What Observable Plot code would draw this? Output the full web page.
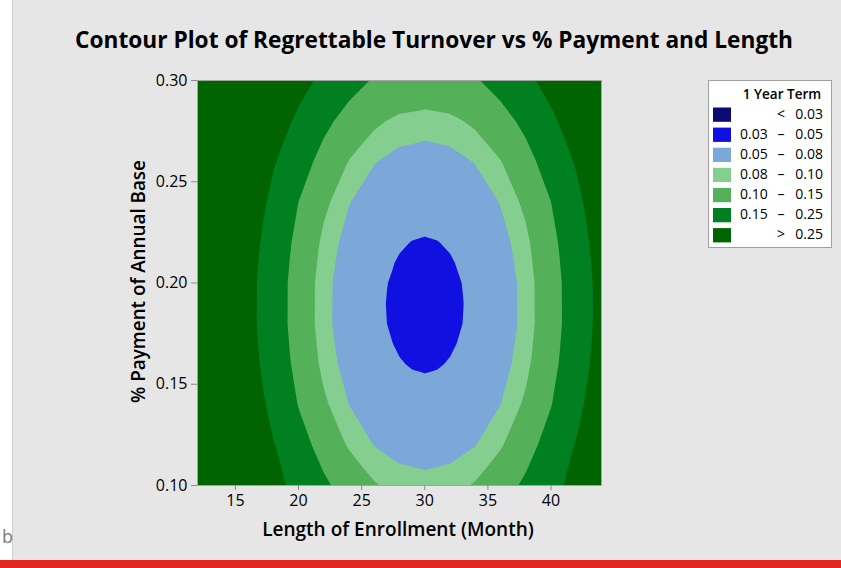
<!DOCTYPE html>
<html>
<head>
<meta charset="utf-8">
<script src="https://cdn.jsdelivr.net/npm/d3@7"></script>
<script src="https://cdn.jsdelivr.net/npm/@observablehq/plot@0.6"></script>
<style>
  html, body { margin: 0; padding: 0; }
  body { width: 841px; height: 568px; overflow: hidden; background: #ffffff; position: relative; font-family: "Open Sans", sans-serif; }
  #panel { position: absolute; left: 12px; top: 0; width: 828px; height: 560px; background: #e6e6e6; border-left: 1px solid #cfcfcf; }
  #redbar { position: absolute; left: 0; top: 560px; width: 841px; height: 8px; background: #e3241f; }
  #side { position: absolute; left: 2px; top: 524px; font-size: 18px; color: #7a7a7a; font-family: "Open Sans", sans-serif; }
  #chart { position: absolute; left: 0; top: 0; }
  #chart svg { background: transparent !important; }
</style>
</head>
<body>
<div id="panel"></div>
<div id="redbar"></div>
<div id="side">b</div>
<div id="chart"></div>
<script>
// ---- data ----
const titleText = "Contour Plot of Regrettable Turnover vs % Payment and Length";
const xLabel = "Length of Enrollment (Month)";
const yLabel = "% Payment of Annual Base";
const legendTitle = "1 Year Term";

// coarse grid of the fitted surface (columns = months, rows = payments, top row = 0.30)
const months = [12, 14, 16, 18, 20, 22, 24, 26, 28, 30, 32, 34, 36, 38, 40, 42, 44];
const payments = [0.30, 0.28, 0.26, 0.24, 0.22, 0.20, 0.18, 0.16, 0.14, 0.12, 0.10];
const turnover = [
  [0.8246,0.6929,0.5412,0.4022,0.2950,0.2209,0.1733,0.1445,0.1292,0.1244,0.1292,0.1445,0.1733,0.2209,0.2950,0.4022,0.5412],
  [0.7664,0.6115,0.4516,0.3196,0.2260,0.1652,0.1276,0.1054,0.0938,0.0902,0.0938,0.1054,0.1276,0.1652,0.2260,0.3196,0.4516],
  [0.7109,0.5412,0.3816,0.2603,0.1795,0.1292,0.0988,0.0812,0.0720,0.0692,0.0720,0.0812,0.0988,0.1292,0.1795,0.2603,0.3816],
  [0.6643,0.4871,0.3319,0.2208,0.1498,0.1067,0.0811,0.0664,0.0588,0.0564,0.0588,0.0664,0.0811,0.1067,0.1498,0.2208,0.3319],
  [0.6310,0.4507,0.3003,0.1967,0.1321,0.0935,0.0709,0.0579,0.0512,0.0491,0.0512,0.0579,0.0709,0.0935,0.1321,0.1967,0.3003],
  [0.6135,0.4323,0.2849,0.1851,0.1238,0.0874,0.0661,0.0539,0.0477,0.0458,0.0477,0.0539,0.0661,0.0874,0.1238,0.1851,0.2849],
  [0.6126,0.4314,0.2841,0.1846,0.1234,0.0871,0.0659,0.0538,0.0475,0.0456,0.0475,0.0538,0.0659,0.0871,0.1234,0.1846,0.2841],
  [0.6285,0.4481,0.2981,0.1950,0.1309,0.0926,0.0702,0.0573,0.0507,0.0487,0.0507,0.0573,0.0702,0.0926,0.1309,0.1950,0.2981],
  [0.6604,0.4826,0.3279,0.2177,0.1475,0.1050,0.0798,0.0653,0.0578,0.0555,0.0578,0.0653,0.0798,0.1050,0.1475,0.2177,0.3279],
  [0.7058,0.5351,0.3758,0.2556,0.1759,0.1264,0.0966,0.0793,0.0704,0.0676,0.0704,0.0793,0.0966,0.1264,0.1759,0.2556,0.3758],
  [0.7606,0.6039,0.4437,0.2800,0.2204,0.1609,0.1241,0.1025,0.0911,0.0876,0.0911,0.1025,0.1241,0.1609,0.2204,0.2800,0.4437]
];

// finer grid around the minimum (top row = 0.24)
const fineMonths = [26, 27, 28, 29, 30, 31, 32, 33, 34];
const finePayments = [0.24, 0.23, 0.22, 0.21, 0.20, 0.19, 0.18, 0.17, 0.16, 0.15, 0.14];
const fineTurnover = [
  [0.0664,0.0618,0.0588,0.0570,0.0564,0.0570,0.0588,0.0618,0.0664],
  [0.0615,0.0573,0.0544,0.0528,0.0522,0.0528,0.0544,0.0573,0.0615],
  [0.0579,0.0539,0.0512,0.0497,0.0491,0.0497,0.0512,0.0539,0.0579],
  [0.0554,0.0516,0.0490,0.0475,0.0470,0.0475,0.0490,0.0516,0.0554],
  [0.0539,0.0502,0.0477,0.0462,0.0458,0.0462,0.0477,0.0502,0.0539],
  [0.0534,0.0497,0.0472,0.0458,0.0453,0.0458,0.0472,0.0497,0.0534],
  [0.0538,0.0500,0.0475,0.0461,0.0456,0.0461,0.0475,0.0500,0.0538],
  [0.0550,0.0512,0.0487,0.0472,0.0467,0.0472,0.0487,0.0512,0.0550],
  [0.0573,0.0534,0.0507,0.0492,0.0487,0.0492,0.0507,0.0534,0.0573],
  [0.0607,0.0565,0.0537,0.0521,0.0515,0.0521,0.0537,0.0565,0.0607],
  [0.0653,0.0608,0.0578,0.0561,0.0555,0.0561,0.0578,0.0608,0.0653]
];

const levels = [0.03, 0.05, 0.08, 0.10, 0.15, 0.25];
const levelColors = ["#0b0b72", "#1010e0", "#7ba7d9", "#84cf90", "#55b05a", "#008021", "#006400"];
const legendRows = [["<", "", "0.03"], ["0.03", "–", "0.05"], ["0.05", "–", "0.08"], ["0.08", "–", "0.10"], ["0.10", "–", "0.15"], ["0.15", "–", "0.25"], [">", "", "0.25"]];
const xTicks = [15, 20, 25, 30, 35, 40];
const yTicks = [0.10, 0.15, 0.20, 0.25, 0.30];
const xDomain = [12, 44];
const yDomain = [0.10, 0.30];

// ---- build sample points ----
const samples = new Map();
function addGrid(xs, ys, vals) {
  ys.forEach((y, r) => xs.forEach((x, c) => {
    samples.set(x + "|" + y.toFixed(2), { x, y, v: vals[r][c] });
  }));
}
addGrid(months, payments, turnover);
addGrid(fineMonths, finePayments, fineTurnover);
const points = Array.from(samples.values());

const W = 841, H = 568;
const chart = Plot.plot({
  width: W,
  height: H,
  marginLeft: 197,
  marginRight: 240,
  marginTop: 80,
  marginBottom: 83,
  style: { background: "transparent", fontFamily: "'Open Sans', sans-serif", fontSize: "16px", color: "#000" },
  x: { domain: xDomain },
  y: { domain: yDomain },
  color: { type: "threshold", domain: levels, range: levelColors },
  marks: [
    Plot.contour(points, {
      x: "x", y: "y", fill: "v",
      interpolate: "barycentric",
      pixelSize: 1,
      thresholds: levels,
      stroke: "none",
      clip: true
    }),
    Plot.frame({ stroke: "#a3a3a3", strokeWidth: 1 }),
    Plot.axisX({ ticks: xTicks, tickSize: 5, tickPadding: 4, stroke: "#8c8c8c", fill: "#000", label: null }),
    Plot.axisY({ ticks: yTicks, tickSize: 6, tickPadding: 4, tickFormat: d3.format(".2f"), stroke: "#8c8c8c", fill: "#000", label: null })
  ]
});
document.getElementById("chart").appendChild(chart);

const svg = d3.select(chart);
// tick labels: enforce size and face
svg.selectAll("text")
  .attr("font-size", 16)
  .style("font-size", "16px")
  .style("font-family", "'Open Sans', sans-serif");

const g = svg.append("g").attr("font-family", "'Open Sans', sans-serif").attr("fill", "#000");

function fitText(sel, target) {
  const len = sel.node().getComputedTextLength();
  const fs = parseFloat(sel.attr("font-size"));
  if (len > 0) sel.attr("font-size", (fs * target / len).toFixed(2));
}

const t = g.append("text").attr("x", 434).attr("y", 48).attr("text-anchor", "middle")
  .attr("font-size", 24).attr("font-weight", 700).text(titleText);
fitText(t, 718);

const xl = g.append("text").attr("x", 398).attr("y", 536).attr("text-anchor", "middle")
  .attr("font-size", 19).attr("font-weight", 600).text(xLabel);
fitText(xl, 272);

const yl = g.append("text").attr("transform", "translate(144.5,281.5) rotate(-90)").attr("text-anchor", "middle")
  .attr("font-size", 19).attr("font-weight", 600).text(yLabel);
fitText(yl, 243);

// legend
const lg = g.append("g");
lg.append("rect").attr("x", 708.5).attr("y", 80.5).attr("width", 123).attr("height", 167)
  .attr("fill", "#fff").attr("stroke", "#a0a0a0");
lg.append("text").attr("x", 782).attr("y", 99).attr("text-anchor", "middle")
  .attr("font-size", 13.5).attr("font-weight", 600).text(legendTitle);
legendRows.forEach((row, i) => {
  const y0 = 107.5 + i * 20.1;
  lg.append("rect").attr("x", 713).attr("y", y0).attr("width", 18).attr("height", 14.3)
    .attr("fill", levelColors[i]);
  const base = y0 + 11.3;
  if (row[1] === "") {
    lg.append("text").attr("x", 781).attr("y", base).attr("text-anchor", "middle").attr("font-size", 14).text(row[0]);
  } else {
    lg.append("text").attr("x", 740).attr("y", base).attr("text-anchor", "start").attr("font-size", 14).text(row[0]);
    lg.append("text").attr("x", 781).attr("y", base).attr("text-anchor", "middle").attr("font-size", 14).text(row[1]);
  }
  lg.append("text").attr("x", 823).attr("y", base).attr("text-anchor", "end").attr("font-size", 14).text(row[2]);
});
</script>
</body>
</html>
